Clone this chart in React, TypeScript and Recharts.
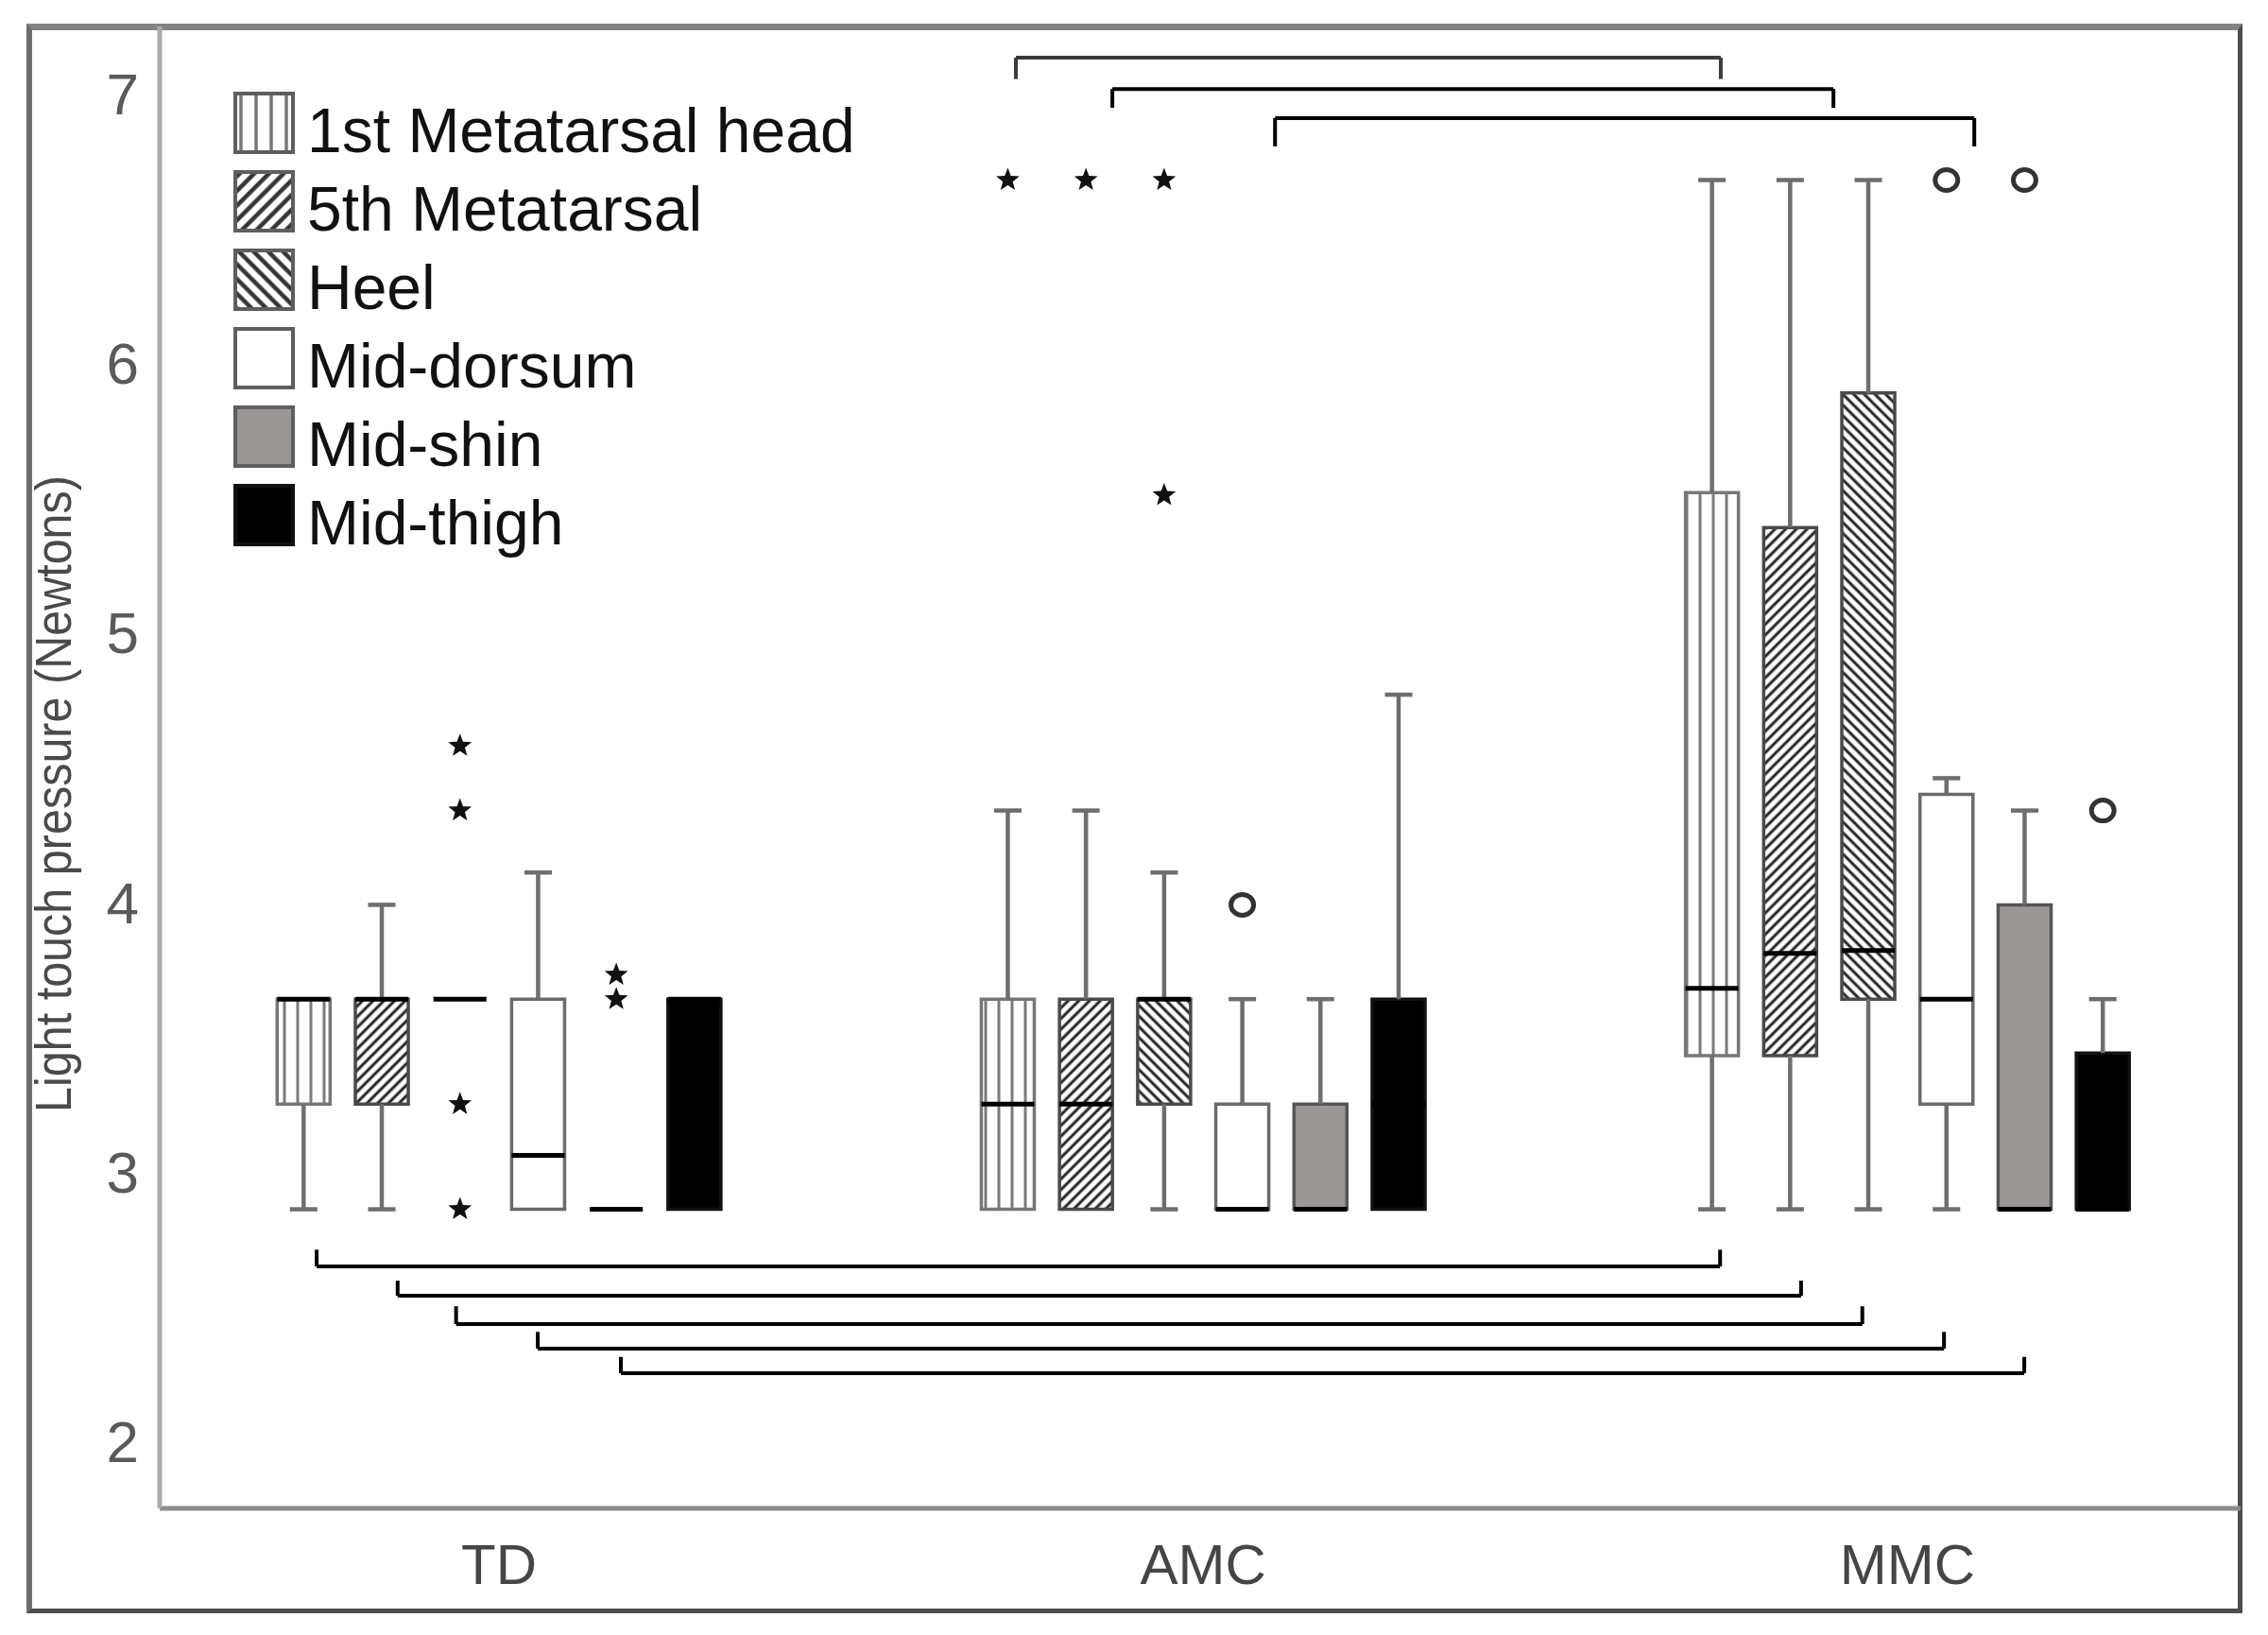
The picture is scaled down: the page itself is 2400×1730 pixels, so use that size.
import React from 'react';
import {
  ComposedChart,
  XAxis,
  YAxis,
  Scatter,
  ReferenceArea,
  ReferenceLine,
  Legend,
} from 'recharts';

const groups = ['TD', 'AMC', 'MMC'];
const sites = ['1st Metatarsal head', '5th Metatarsal', 'Heel', 'Mid-dorsum', 'Mid-shin', 'Mid-thigh'];
const yTicks = [2, 3, 4, 5, 6, 7];

// [lower whisker, Q1, median, Q3, upper whisker] for each site
const tdStats = [
  [2.86, 3.25, 3.64, 3.64, 3.64],
  [2.86, 3.25, 3.64, 3.64, 3.99],
  [3.64, 3.64, 3.64, 3.64, 3.64],
  [2.86, 2.86, 3.06, 3.64, 4.11],
  [2.86, 2.86, 2.86, 2.86, 2.86],
  [2.86, 2.86, 3.64, 3.64, 3.64],
];
const amcStats = [
  [2.86, 2.86, 3.25, 3.64, 4.34],
  [2.86, 2.86, 3.25, 3.64, 4.34],
  [2.86, 3.25, 3.64, 3.64, 4.11],
  [2.86, 2.86, 2.86, 3.25, 3.64],
  [2.86, 2.86, 2.86, 3.25, 3.64],
  [2.86, 2.86, 3.25, 3.64, 4.77],
];
const mmcStats = [
  [2.86, 3.43, 3.68, 5.52, 6.68],
  [2.86, 3.43, 3.81, 5.39, 6.68],
  [2.86, 3.64, 3.82, 5.89, 6.68],
  [2.86, 3.25, 3.64, 4.4, 4.46],
  [2.86, 2.86, 2.86, 3.99, 4.34],
  [2.86, 2.86, 2.86, 3.44, 3.64],
];

// extreme values (stars) and outliers (circles): [group, site, value]
const extremes = [
  [0, 2, 4.58], [0, 2, 4.34], [0, 2, 3.25], [0, 2, 2.86],
  [0, 4, 3.73], [0, 4, 3.64],
  [1, 0, 6.68], [1, 1, 6.68], [1, 2, 6.68], [1, 2, 5.51],
];
const outliers = [
  [1, 3, 3.99], [2, 3, 6.68], [2, 4, 6.68], [2, 5, 4.34],
];

// significance brackets: [x from, x to, bar level, tick end level]
const lowerBrackets = [
  [-0.259, 1.734, 2.648, 2.71],
  [-0.144, 1.849, 2.539, 2.595],
  [-0.061, 1.936, 2.434, 2.5],
  [0.055, 2.052, 2.343, 2.405],
  [0.173, 2.166, 2.252, 2.312],
];
const upperBrackets = [
  [0.734, 1.735, 7.134, 7.055],
  [0.871, 1.895, 7.018, 6.948],
  [1.102, 2.095, 6.91, 6.805],
];

const FONT = '"Liberation Sans", Arial, sans-serif';
const SLOT = 0.111;
const BOX_HALF = 0.0376;
const CAP_HALF = 0.0195;

const siteFill = ['url(#vlines)', 'url(#fwd)', 'url(#back)', '#ffffff', '#9b9696', '#000000'];
const siteStroke = ['#777777', '#4a4a4a', '#4a4a4a', '#6a6a6a', '#555555', '#111111'];
const legendFill = ['url(#lg-vlines)', 'url(#lg-fwd)', 'url(#lg-back)', '#ffffff', '#9b9696', '#000000'];

const siteX = (g: number, s: number) => g + (s - 2.5) * SLOT;

const boxes = [tdStats, amcStats, mmcStats].flatMap((stats, g) =>
  stats.map((st, s) => ({ g, s, x: siteX(g, s), lo: st[0], q1: st[1], med: st[2], q3: st[3], hi: st[4] }))
);

const starData = extremes.map(([g, s, v]) => ({ x: siteX(g, s), y: v }));
const circleData = outliers.map(([g, s, v]) => ({ x: siteX(g, s), y: v }));

const Star = (props: any) => {
  const { cx, cy } = props;
  const pts: string[] = [];
  for (let i = 0; i < 10; i++) {
    const r = i % 2 === 0 ? 13 : 5.5;
    const a = -Math.PI / 2 + (i * Math.PI) / 5;
    pts.push(`${cx + r * Math.cos(a)},${cy + r * Math.sin(a)}`);
  }
  return <polygon points={pts.join(' ')} fill="#111" />;
};

const Ring = (props: any) => (
  <ellipse cx={props.cx} cy={props.cy} rx={12} ry={11} fill="none" stroke="#333" strokeWidth={5} />
);

const YLabel = (props: any) => {
  const vb = props.viewBox || { x: 0, y: 28, width: 169, height: 1568 };
  const x = vb.x + 75;
  const y = vb.y + vb.height / 2 + 28;
  return (
    <text
      transform={`translate(${x},${y}) rotate(-90)`}
      textAnchor="middle"
      fontSize={54}
      fill="#4a4a4a"
      fontFamily={FONT}
      textLength={674}
      lengthAdjust="spacingAndGlyphs"
    >
      Light touch pressure (Newtons)
    </text>
  );
};

function LegendBlock() {
  return (
    <svg width={720} height={520} style={{ display: 'block' }}>
      <defs>
        <pattern id="lg-vlines" width={16} height={16} patternUnits="userSpaceOnUse" x={4}>
          <rect width={16} height={16} fill="#fff" />
          <line x1={8} y1={0} x2={8} y2={16} stroke="#777" strokeWidth={3.5} />
        </pattern>
        <pattern id="lg-fwd" width={11} height={11} patternUnits="userSpaceOnUse" patternTransform="rotate(45)">
          <rect width={11} height={11} fill="#fff" />
          <line x1={5.5} y1={0} x2={5.5} y2={11} stroke="#333" strokeWidth={4.5} />
        </pattern>
        <pattern id="lg-back" width={11} height={11} patternUnits="userSpaceOnUse" patternTransform="rotate(-45)">
          <rect width={11} height={11} fill="#fff" />
          <line x1={5.5} y1={0} x2={5.5} y2={11} stroke="#333" strokeWidth={4.5} />
        </pattern>
      </defs>
      {sites.map((name, i) => (
        <g key={name}>
          <rect
            x={6}
            y={6 + i * 83}
            width={61}
            height={62}
            fill={legendFill[i]}
            stroke={i === 5 ? '#111' : '#5e5e5e'}
            strokeWidth={4}
          />
          <text x={82} y={68 + i * 83} fontSize={66} fill="#111" fontFamily={FONT}>
            {name}
          </text>
        </g>
      ))}
    </svg>
  );
}

export default function App() {
  const boxAreas = boxes.map((b) => (
    <ReferenceArea
      key={`box-${b.g}-${b.s}`}
      x1={b.x - BOX_HALF}
      x2={b.x + BOX_HALF}
      y1={b.q1}
      y2={b.q3}
      fill={siteFill[b.s]}
      fillOpacity={1}
      stroke={siteStroke[b.s]}
      strokeWidth={3.5}
      ifOverflow="visible"
    />
  ));

  const whiskers = boxes.flatMap((b) => {
    const out: React.ReactElement[] = [];
    if (b.hi > b.q3) {
      out.push(
        <ReferenceLine key={`wh-${b.g}-${b.s}`} segment={[{ x: b.x, y: b.q3 }, { x: b.x, y: b.hi }]} stroke="#6e6e6e" strokeWidth={4.5} />,
        <ReferenceLine key={`ch-${b.g}-${b.s}`} segment={[{ x: b.x - CAP_HALF, y: b.hi }, { x: b.x + CAP_HALF, y: b.hi }]} stroke="#6e6e6e" strokeWidth={4.5} />
      );
    }
    if (b.lo < b.q1) {
      out.push(
        <ReferenceLine key={`wl-${b.g}-${b.s}`} segment={[{ x: b.x, y: b.lo }, { x: b.x, y: b.q1 }]} stroke="#6e6e6e" strokeWidth={4.5} />,
        <ReferenceLine key={`cl-${b.g}-${b.s}`} segment={[{ x: b.x - CAP_HALF, y: b.lo }, { x: b.x + CAP_HALF, y: b.lo }]} stroke="#6e6e6e" strokeWidth={4.5} />
      );
    }
    return out;
  });

  const medians = boxes.map((b) => (
    <ReferenceLine
      key={`md-${b.g}-${b.s}`}
      segment={[{ x: b.x - BOX_HALF, y: b.med }, { x: b.x + BOX_HALF, y: b.med }]}
      stroke="#000"
      strokeWidth={5}
    />
  ));

  const bracketLines = [
    ...lowerBrackets.map((br, i) => ({ br, i, color: '#000', key: 'lo' })),
    ...upperBrackets.map((br, i) => ({ br, i, color: i === 0 ? '#3a3a3a' : '#000', key: 'up' })),
  ].flatMap(({ br, i, color, key }) => {
    const [x1, x2, level, tip] = br;
    return [
      <ReferenceLine key={`${key}-h-${i}`} segment={[{ x: x1, y: level }, { x: x2, y: level }]} stroke={color} strokeWidth={4} />,
      <ReferenceLine key={`${key}-l-${i}`} segment={[{ x: x1, y: level }, { x: x1, y: tip }]} stroke={color} strokeWidth={4} />,
      <ReferenceLine key={`${key}-r-${i}`} segment={[{ x: x2, y: level }, { x: x2, y: tip }]} stroke={color} strokeWidth={4} />,
    ];
  });

  return (
    <div style={{ position: 'absolute', left: 0, top: 0, width: 2400, height: 1730, background: '#fff' }}>
      <div
        style={{
          position: 'absolute',
          left: 28,
          top: 25,
          width: 2345,
          height: 1682,
          boxSizing: 'border-box',
          borderTop: '7px solid #838383',
          borderLeft: '6px solid #6c6c6c',
          borderRight: '5px solid #4d4d4d',
          borderBottom: '5px solid #4d4d4d',
        }}
      />
      <div style={{ position: 'absolute', left: 0, top: 0 }}>
        <ComposedChart width={2400} height={1730} margin={{ top: 28, right: 29, bottom: 0, left: 0 }}>
          <defs>
            <pattern id="vlines" width={14} height={14} patternUnits="userSpaceOnUse">
              <rect width={14} height={14} fill="#fff" />
              <line x1={7} y1={0} x2={7} y2={14} stroke="#7a7a7a" strokeWidth={3} />
            </pattern>
            <pattern id="fwd" width={8} height={8} patternUnits="userSpaceOnUse" patternTransform="rotate(45)">
              <rect width={8} height={8} fill="#fff" />
              <line x1={4} y1={0} x2={4} y2={8} stroke="#222" strokeWidth={3} />
            </pattern>
            <pattern id="back" width={8} height={8} patternUnits="userSpaceOnUse" patternTransform="rotate(-45)">
              <rect width={8} height={8} fill="#fff" />
              <line x1={4} y1={0} x2={4} y2={8} stroke="#222" strokeWidth={3} />
            </pattern>
          </defs>
          <XAxis
            type="number"
            dataKey="x"
            domain={[-0.4819, 2.4732]}
            allowDataOverflow
            ticks={[0, 1, 2]}
            interval={0}
            tickFormatter={(v: number) => groups[v] ?? ''}
            height={134}
            axisLine={{ stroke: '#8c8c8c', strokeWidth: 5 }}
            tickLine={false}
            tickSize={0}
            tickMargin={37}
            tick={{ fontSize: 60, fill: '#454545', fontFamily: FONT }}
          />
          <YAxis
            type="number"
            dataKey="y"
            domain={[1.75, 7.25]}
            allowDataOverflow
            ticks={yTicks}
            interval={0}
            width={169}
            axisLine={{ stroke: '#ababab', strokeWidth: 5 }}
            tickLine={false}
            tickSize={0}
            tickMargin={22}
            tick={{ fontSize: 62, fill: '#5a5a5a', fontFamily: FONT }}
            label={<YLabel />}
          />
          {boxAreas}
          {whiskers}
          {medians}
          {bracketLines}
          <Scatter data={starData} shape={Star} isAnimationActive={false} legendType="none" />
          <Scatter data={circleData} shape={Ring} isAnimationActive={false} legendType="none" />
          <Legend
            layout="vertical"
            align="center"
            verticalAlign="middle"
            wrapperStyle={{ position: 'absolute', left: 243, top: 93, width: 720, height: 520 }}
            content={() => <LegendBlock />}
          />
        </ComposedChart>
      </div>
    </div>
  );
}
